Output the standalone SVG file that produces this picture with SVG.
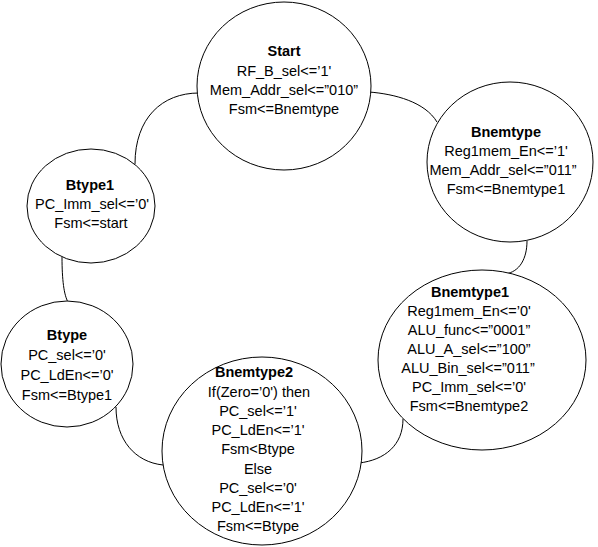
<svg xmlns="http://www.w3.org/2000/svg" width="598" height="547" viewBox="0 0 598 547">
<style>
.bg{fill:#ffffff}
.st{fill:#ffffff;stroke:#000000;stroke-width:1}
.cn{fill:none;stroke:#000000;stroke-width:1}
text{font-family:"Liberation Sans",Arial,sans-serif;font-size:14.5px;fill:#000000;text-anchor:middle}
.h{font-weight:bold}
</style>
<rect class="bg" x="0" y="0" width="598" height="547"/>
<g id="connectors">
<path class="cn" d="M135,164 C135,118 162,93 199,93"/>
<path class="cn" d="M369,92 C395,94 425,102 437,122"/>
<path class="cn" d="M527,241 C527,258 520,272 505,274"/>
<path class="cn" d="M403,419 C403,445 385,460 359,463"/>
<path class="cn" d="M116,407 C116,440 135,462 163,465"/>
<path class="cn" d="M62,257 C62,280 64,295 68,302"/>
</g>
<g id="start">
<ellipse class="st" cx="284" cy="86" rx="87" ry="84"/>
<text class="h" x="284" y="56">Start</text>
<text x="284" y="75.5">RF_B_sel&lt;=’1'</text>
<text x="284" y="94.5">Mem_Addr_sel&lt;=”010”</text>
<text x="284" y="113.5">Fsm&lt;=Bnemtype</text>
</g>
<g id="bnemtype">
<ellipse class="st" cx="510" cy="162" rx="83" ry="80"/>
<text class="h" x="506" y="137">Bnemtype</text>
<text x="506" y="156">Reg1mem_En&lt;=’1'</text>
<text x="503" y="175">Mem_Addr_sel&lt;=”011”</text>
<text x="506" y="194">Fsm&lt;=Bnemtype1</text>
</g>
<g id="bnemtype1">
<ellipse class="st" cx="482" cy="360" rx="104" ry="90"/>
<text class="h" x="470" y="297">Bnemtype1</text>
<text x="469" y="316">Reg1mem_En&lt;=’0'</text>
<text x="469" y="335">ALU_func&lt;=”0001”</text>
<text x="469" y="354">ALU_A_sel&lt;=”100”</text>
<text x="468" y="373">ALU_Bin_sel&lt;=”011”</text>
<text x="469" y="392">PC_Imm_sel&lt;=’0'</text>
<text x="469" y="411">Fsm&lt;=Bnemtype2</text>
</g>
<g id="bnemtype2">
<ellipse class="st" cx="262" cy="451" rx="100" ry="94"/>
<text class="h" x="254" y="377">Bnemtype2</text>
<text x="259" y="397">If(Zero=’0') then</text>
<text x="258" y="416">PC_sel&lt;=’1'</text>
<text x="258" y="435">PC_LdEn&lt;=’1'</text>
<text x="258" y="454">Fsm&lt;Btype</text>
<text x="258" y="474">Else</text>
<text x="258" y="493">PC_sel&lt;=’0'</text>
<text x="258" y="512">PC_LdEn&lt;=’1'</text>
<text x="258" y="531">Fsm&lt;=Btype</text>
</g>
<g id="btype">
<ellipse class="st" cx="67" cy="364" rx="66" ry="63"/>
<text class="h" x="67" y="340">Btype</text>
<text x="67" y="360">PC_sel&lt;=’0'</text>
<text x="67" y="380">PC_LdEn&lt;=’0'</text>
<text x="67" y="400">Fsm&lt;=Btype1</text>
</g>
<g id="btype1">
<ellipse class="st" cx="91" cy="206" rx="64" ry="57"/>
<text class="h" x="90" y="190">Btype1</text>
<text x="92" y="209">PC_Imm_sel&lt;=’0'</text>
<text x="91" y="228">Fsm&lt;=start</text>
</g>
</svg>
